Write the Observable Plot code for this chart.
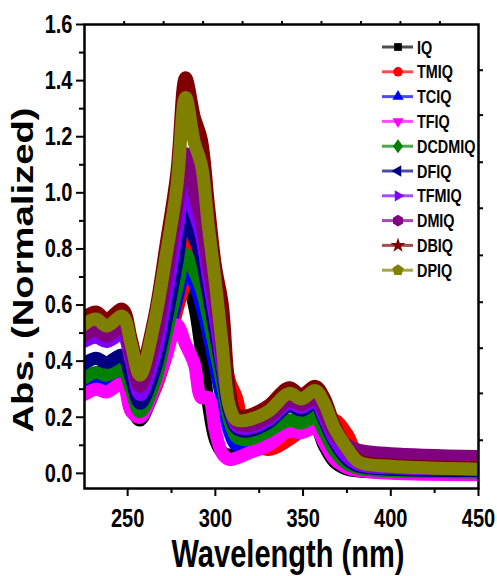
<!DOCTYPE html>
<html><head><meta charset="utf-8">
<script src="https://cdn.jsdelivr.net/npm/d3@7"></script>
<script src="https://cdn.jsdelivr.net/npm/@observablehq/plot@0.6"></script>
<style>
html,body{margin:0;padding:0;background:#fff;}
#chart{position:relative;width:497px;height:576px;}
</style></head><body><div id="chart"></div>
<script>
// ---- data ----
const wavelengths = [225, 232, 238, 247, 252, 257, 265, 272, 278, 283, 288, 292, 296, 300, 304, 308, 312, 318, 330, 342, 349, 357, 362, 368, 375, 382, 400, 450];
const IQ     = [.30,.315,.305,.33,.24,.19,.31,.47,.61,.70,.60,.44,.25,.12,.075,.065,.065,.075,.11,.16,.15,.165,.10,.04,.015,.008,.003,0];
const TMIQ   = [.30,.32,.31,.34,.25,.20,.29,.42,.58,.69,.84,.78,.64,.54,.46,.33,.27,.13,.085,.12,.15,.17,.18,.19,.14,.06,.02,.01];
const TCIQ   = [.32,.335,.325,.345,.27,.20,.30,.46,.62,.72,.68,.60,.50,.38,.26,.15,.10,.10,.13,.17,.16,.18,.13,.07,.03,.015,.008,.003];
const TFIQ   = [.28,.30,.29,.32,.22,.20,.30,.42,.53,.46,.39,.27,.27,.15,.07,.05,.055,.07,.10,.15,.145,.16,.11,.05,.02,.01,0,-.005];
const DCDMIQ = [.34,.36,.35,.37,.30,.22,.32,.50,.66,.78,.72,.66,.56,.44,.32,.19,.13,.12,.15,.19,.18,.20,.15,.08,.035,.018,.01,.005];
const DFIQ   = [.39,.41,.395,.42,.34,.25,.36,.55,.75,.92,.84,.77,.64,.50,.36,.22,.16,.15,.18,.24,.225,.25,.19,.11,.05,.025,.015,.01];
const TFMIQ  = [.47,.485,.47,.495,.40,.28,.41,.63,.86,1.02,.93,.85,.70,.55,.38,.24,.17,.16,.19,.25,.235,.26,.20,.12,.06,.03,.02,.015];
const DMIQ   = [.49,.51,.49,.52,.42,.31,.46,.70,.94,1.14,1.00,.90,.75,.60,.42,.25,.18,.17,.20,.26,.245,.27,.22,.14,.10,.082,.07,.06];
const DBIQ   = [.555,.575,.55,.585,.48,.37,.55,.82,1.07,1.41,1.27,1.19,.96,.74,.60,.30,.21,.205,.24,.305,.28,.31,.27,.17,.09,.045,.03,.02];
const DPIQ   = [.53,.55,.525,.56,.46,.35,.53,.78,1.02,1.34,1.18,1.10,.88,.68,.45,.24,.19,.19,.22,.285,.265,.295,.25,.16,.09,.04,.025,.015];

const seriesNames  = ["IQ","TMIQ","TCIQ","TFIQ","DCDMIQ","DFIQ","TFMIQ","DMIQ","DBIQ","DPIQ"];
const seriesValues = [IQ, TMIQ, TCIQ, TFIQ, DCDMIQ, DFIQ, TFMIQ, DMIQ, DBIQ, DPIQ];
const seriesColors = ["#000000","#ff0000","#0000ff","#ff00ff","#008000","#000080","#8000ff","#800080","#800000","#808000"];
const seriesSymbols = ["square","circle","triUp","triDown","diamond","triLeft","triRight","hexagon","star","pentagon"];

const xTicks = [250, 300, 350, 400, 450];
const xMinor = [275, 325, 375, 425];
const yTicks = [0, 0.2, 0.4, 0.6, 0.8, 1.0, 1.2, 1.4, 1.6];
const yMinor = [0.1, 0.3, 0.5, 0.7, 0.9, 1.1, 1.3, 1.5];
const topTicks = [248, 270.5, 293, 315.5, 338, 360.5, 383, 405.5, 428];
const rightTicks = [0.118, 0.285, 0.446, 0.61, 0.777, 0.945, 1.109, 1.277, 1.437];
const xTitle = "Wavelength (nm)";
const yTitle = "Abs. (Normalized)";

// ---- build table ----
const rows = [];
seriesNames.forEach((name, k) => seriesValues[k].forEach((v, i) => rows.push({series: name, wl: wavelengths[i], abs: v})));

const font = "'Liberation Sans', Arial, Helvetica, sans-serif";
const svg = Plot.plot({
  width: 497, height: 576,
  marginLeft: 84, marginRight: 19, marginTop: 24, marginBottom: 88,
  style: {fontFamily: font, fontWeight: "bold", color: "#000", background: "#fff", overflow: "visible"},
  x: {domain: [225.4, 450]},
  y: {domain: [-0.054, 1.6]},
  color: {domain: seriesNames, range: seriesColors},
  marks: [
    Plot.line(rows, {x: "wl", y: "abs", z: "series", stroke: "series", strokeWidth: 13, curve: "catmull-rom", strokeLinejoin: "round", clip: true}),
    Plot.axisX({ticks: xTicks, tickSize: 8, tickPadding: 12, fontSize: 26, strokeWidth: 2, label: null, tickFormat: d => String(d)}),
    Plot.axisX({ticks: xMinor, tickSize: 5, strokeWidth: 2, label: null, tickFormat: () => ""}),
    Plot.axisX({anchor: "top", ticks: topTicks, tickSize: 4, strokeWidth: 2, label: null, tickFormat: () => ""}),
    Plot.axisY({ticks: yTicks, tickSize: 8, tickPadding: 4, fontSize: 26, strokeWidth: 2, label: null, tickFormat: d3.format(".1f")}),
    Plot.axisY({ticks: yMinor, tickSize: 5, strokeWidth: 2, label: null, tickFormat: () => ""}),
    Plot.axisY({anchor: "right", ticks: rightTicks, tickSize: 4, strokeWidth: 2, label: null, tickFormat: () => ""}),
    Plot.frame({stroke: "#000", strokeWidth: 2.5})
  ]
});

// squeeze tick labels horizontally (reference text is tall and narrow)
svg.querySelectorAll("text").forEach(t => {
  let tr = t.getAttribute("transform") || "";
  const x = t.getAttribute("x");
  if (x !== null && !isNaN(+x)) {
    tr += ` translate(${x},0)`;
    t.removeAttribute("x");
  }
  t.setAttribute("transform", (tr + " scale(0.77,1)").trim());
});

const s = d3.select(svg);
// axis titles
s.append("text").attr("transform", "translate(288,567)")
  .attr("text-anchor", "middle").attr("font-size", 39).attr("font-weight", "bold")
  .attr("textLength", 233).attr("lengthAdjust", "spacingAndGlyphs").attr("fill", "#000")
  .text(xTitle);
s.append("text").attr("transform", "translate(33,270) rotate(-90)")
  .attr("text-anchor", "middle").attr("font-size", 29).attr("font-weight", "bold")
  .attr("textLength", 325).attr("lengthAdjust", "spacingAndGlyphs").attr("fill", "#000")
  .text(yTitle);

// legend
function poly(n, r, rot) {
  const p = [];
  for (let i = 0; i < n; i++) { const a = rot + i * 2 * Math.PI / n; p.push([r * Math.cos(a), r * Math.sin(a)]); }
  return "M" + p.map(q => q.join(",")).join("L") + "Z";
}
function symPath(kind) {
  switch (kind) {
    case "square": return d3.symbol(d3.symbolSquare, 60)();
    case "circle": return d3.symbol(d3.symbolCircle, 70)();
    case "triUp": return poly(3, 6.5, -Math.PI / 2);
    case "triDown": return poly(3, 6.5, Math.PI / 2);
    case "triLeft": return poly(3, 6.5, Math.PI);
    case "triRight": return poly(3, 6.5, 0);
    case "diamond": return "M0,-7L5,0L0,7L-5,0Z";
    case "hexagon": return poly(6, 5.8, Math.PI / 2);
    case "star": return d3.symbol(d3.symbolStar, 70)();
    case "pentagon": return poly(5, 6, -Math.PI / 2);
  }
}
const lg = s.append("g");
seriesNames.forEach((name, i) => {
  const y = 47 + i * 24.8;
  lg.append("line").attr("x1", 382).attr("x2", 413).attr("y1", y).attr("y2", y)
    .attr("stroke", seriesColors[i]).attr("stroke-width", 3).attr("stroke-opacity", 0.7);
  lg.append("path").attr("d", symPath(seriesSymbols[i])).attr("transform", `translate(398,${y})`)
    .attr("fill", seriesColors[i]);
  lg.append("text").attr("transform", `translate(417,${y + 6.5}) scale(0.8,1)`)
    .attr("text-anchor", "start")
    .attr("font-size", 18).attr("font-weight", "bold").attr("fill", "#000").text(name);
});

document.getElementById("chart").appendChild(svg);
</script></body></html>
